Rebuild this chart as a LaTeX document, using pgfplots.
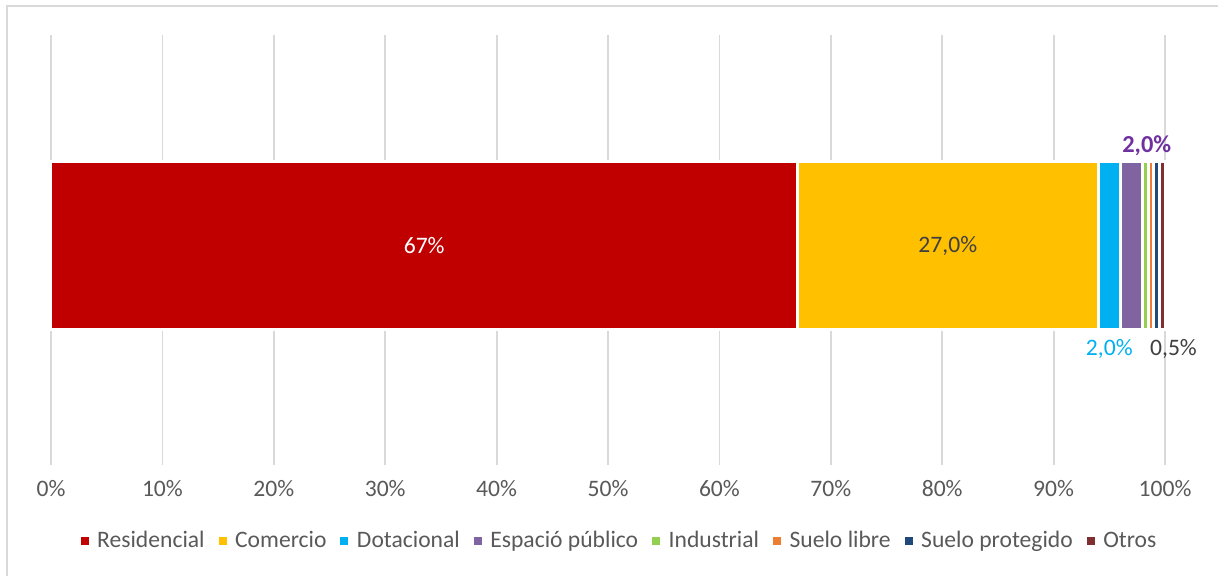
\documentclass[border=0pt]{standalone}
\usepackage{pgfplots}
\pgfplotsset{compat=1.18}
\usepackage{fontspec}
\setmainfont{Carlito}
\definecolor{cRes}{HTML}{C00000}
\definecolor{cCom}{HTML}{FFC000}
\definecolor{cDot}{HTML}{00B0F0}
\definecolor{cEsp}{HTML}{8064A2}
\definecolor{cInd}{HTML}{92D050}
\definecolor{cSue}{HTML}{ED7D31}
\definecolor{cPro}{HTML}{1F497D}
\definecolor{cOtr}{HTML}{7F2F2F}
\definecolor{gridgray}{HTML}{D9D9D9}
\definecolor{txtgray}{HTML}{595959}
\definecolor{lblgray}{HTML}{404040}
\definecolor{lblpurple}{HTML}{7030A0}
\begin{document}
\begin{tikzpicture}[font=\fontsize{11.8}{14.2}\selectfont]
\useasboundingbox (-25.5pt,-55pt) rectangle (583.5pt,232.5pt);
\draw[color=gridgray, line width=1pt] (-22pt,-70pt) -- (-22pt,229.5pt) -- (600pt,229.5pt);
\begin{axis}[
  at={(0pt,0pt)}, anchor=south west,
  scale only axis, width=557pt, height=215pt,
  xbar stacked, bar width=84pt,
  xmin=0, xmax=100, ymin=-1, ymax=0.9589,
  xtick={0,10,...,100},
  xticklabel={\pgfmathprintnumber{\tick}\%},
  /pgf/number format/assume math mode=true,
  ytick=\empty,
  axis line style={draw=none},
  major tick style={draw=none},
  xmajorgrids,
  grid style={gridgray, line width=0.9pt},
  xticklabel style={text=txtgray, font=\fontsize{11.8}{14.2}\selectfont, yshift=-4pt},
  clip=false,
  every axis plot/.append style={draw=white, line width=1.5pt},
  legend columns=8,
  legend style={at={(0.5108,-0.1767)}, anchor=center, draw=none, fill=none,
    font=\fontsize{11.8}{14.2}\selectfont, text=txtgray,
    nodes={inner sep=1.5pt},
    /tikz/every even column/.append style={column sep=5.5pt}},
  legend image code/.code={\fill[#1, draw=none] (0pt,-2pt) rectangle (4pt,2pt);
     \path (4pt,0pt) -- (6pt,0pt);},
]
\addplot[fill=cRes] coordinates {(67,0)};
\addplot[fill=cCom] coordinates {(27,0)};
\addplot[fill=cDot] coordinates {(2,0)};
\addplot[fill=cEsp] coordinates {(2,0)};
\addplot[fill=cInd] coordinates {(0.5,0)};
\addplot[fill=cSue] coordinates {(0.5,0)};
\addplot[fill=cPro] coordinates {(0.5,0)};
\addplot[fill=cOtr] coordinates {(0.5,0)};
\legend{Residencial, Comercio, Dotacional, Espació público, Industrial, Suelo libre, Suelo protegido, Otros}
\coordinate (LRes) at (axis cs:33.5,0);
\coordinate (LCom) at (axis cs:80.5,0);
\coordinate (LDot) at (axis cs:95,-0.4715);
\coordinate (LEsp) at (axis cs:98.36,0.4533);
\coordinate (LOtr) at (axis cs:100.76,-0.4715);
\end{axis}
\node[text=white] at (LRes) {67\%};
\node[text=lblgray] at (LCom) {27,0\%};
\node[text=cDot] at (LDot) {2,0\%};
\node[text=lblpurple, font=\fontsize{12.2}{14.2}\selectfont\bfseries] at (LEsp) {2,0\%};
\node[text=lblgray] at (LOtr) {0,5\%};
\end{tikzpicture}
\end{document}
